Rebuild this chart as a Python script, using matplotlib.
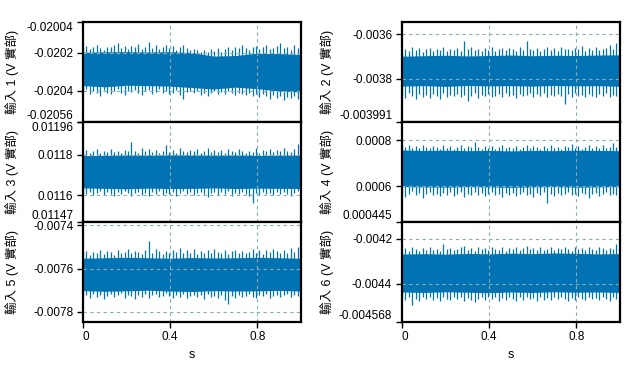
import numpy as np
import matplotlib
matplotlib.use("Agg")
import matplotlib.pyplot as plt

plt.rcParams["font.family"] = ["Liberation Sans", "Noto Sans CJK TC", "DejaVu Sans"]


# 1. Data (values in microvolts)

# dense core of each noise band, sampled at t = 0, 0.1, ..., 1
ch1_core_top = [-20198, -20196, -20195, -20197, -20195, -20200, -20218, -20215, -20203, -20205, -20210]
ch1_core_bot = [-20372, -20378, -20370, -20372, -20375, -20382, -20390, -20380, -20388, -20400, -20405]

ch1_top = [-20178, -20166, -20183, -20171, -20160, -20176, -20186, -20169,
           -20173, -20161, -20150, -20177, -20167, -20181, -20163, -20172,
           -20156, -20179, -20168, -20147, -20174, -20162, -20183, -20170,
           -20158, -20177, -20165, -20186, -20172, -20160, -20175, -20184,
           -20180, -20188, -20196, -20185, -20198, -20182, -20190, -20175,
           -20194, -20180, -20172, -20186, -20168, -20178, -20162, -20176,
           -20185, -20170, -20164, -20180, -20172, -20158, -20183, -20176,
           -20166, -20152, -20178, -20170, -20185, -20162, -20175, -20168]
ch1_bot = [-20405, -20392, -20418, -20398, -20410, -20425, -20396, -20408,
           -20415, -20400, -20390, -20412, -20422, -20398, -20406, -20395,
           -20410, -20420, -20402, -20395, -20415, -20405, -20392, -20412,
           -20400, -20418, -20408, -20396, -20420, -20440, -20405, -20398,
           -20412, -20402, -20420, -20410, -20425, -20408, -20398, -20415,
           -20405, -20418, -20400, -20412, -20422, -20408, -20415, -20420,
           -20410, -20428, -20418, -20432, -20415, -20425, -20440, -20422,
           -20435, -20428, -20445, -20430, -20438, -20425, -20442, -20432]

ch2_core_top = [-3698, -3696, -3694, -3697, -3695, -3693, -3696, -3694, -3695, -3693, -3692]
ch2_core_bot = [-3832, -3830, -3833, -3829, -3831, -3830, -3832, -3829, -3831, -3830, -3833]

ch2_top = [-3680, -3665, -3675, -3658, -3672, -3662, -3678, -3668,
           -3660, -3674, -3664, -3670, -3656, -3676, -3666, -3672,
           -3662, -3675, -3628, -3668, -3658, -3672, -3664, -3676,
           -3660, -3670, -3656, -3674, -3666, -3660, -3672, -3662,
           -3668, -3676, -3658, -3670, -3632, -3664, -3672, -3660,
           -3674, -3664, -3656, -3670, -3662, -3676, -3658, -3668,
           -3664, -3672, -3660, -3668, -3654, -3674, -3662, -3670,
           -3658, -3672, -3664, -3660, -3650, -3668, -3640, -3662]
ch2_bot = [-3870, -3885, -3862, -3878, -3890, -3866, -3880, -3872,
           -3885, -3868, -3876, -3888, -3864, -3882, -3870, -3878,
           -3866, -3880, -3872, -3898, -3876, -3864, -3884, -3870,
           -3878, -3866, -3882, -3874, -3868, -3880, -3864, -3876,
           -3870, -3884, -3866, -3878, -3872, -3862, -3880, -3868,
           -3876, -3864, -3882, -3870, -3878, -3866, -3874, -3910,
           -3868, -3880, -3864, -3876, -3870, -3882, -3866, -3874,
           -3880, -3868, -3876, -3864, -3882, -3870, -3878, -3884]

ch3_core_top = [11795, 11796, 11798, 11797, 11799, 11798, 11797, 11798, 11796, 11797, 11798]
ch3_core_bot = [11636, 11634, 11632, 11635, 11633, 11634, 11636, 11633, 11635, 11634, 11633]

ch3_top = [11812, 11822, 11808, 11818, 11826, 11810, 11820, 11815,
           11828, 11812, 11819, 11806, 11824, 11816, 11862, 11820,
           11810, 11832, 11818, 11826, 11812, 11822, 11808, 11818,
           11848, 11815, 11825, 11810, 11830, 11818, 11812, 11822,
           11816, 11828, 11810, 11820, 11834, 11815, 11824, 11812,
           11822, 11808, 11826, 11818, 11812, 11828, 11816, 11806,
           11820, 11814, 11830, 11810, 11822, 11818, 11826, 11812,
           11824, 11816, 11832, 11820, 11814, 11828, 11852, 11838]
ch3_bot = [11612, 11605, 11618, 11600, 11610, 11620, 11602, 11614,
           11608, 11598, 11615, 11604, 11620, 11610, 11596, 11612,
           11618, 11602, 11610, 11595, 11614, 11606, 11620, 11600,
           11612, 11604, 11616, 11598, 11610, 11620, 11606, 11614,
           11600, 11612, 11618, 11604, 11592, 11610, 11616, 11602,
           11614, 11606, 11620, 11598, 11612, 11604, 11616, 11608,
           11596, 11562, 11610, 11602, 11618, 11606, 11612, 11600,
           11614, 11604, 11618, 11608, 11596, 11612, 11620, 11605]

ch4_core_top = [758, 756, 757, 755, 756, 754, 756, 755, 757, 756, 755]
ch4_core_bot = [598, 597, 596, 598, 597, 595, 597, 598, 596, 597, 598]

ch4_top = [785, 770, 778, 765, 774, 768, 780, 772,
           766, 776, 770, 762, 778, 768, 774, 764,
           772, 780, 766, 775, 769, 792, 771, 764,
           776, 768, 774, 762, 770, 778, 766, 772,
           768, 776, 764, 772, 780, 766, 774, 770,
           762, 774, 768, 778, 766, 772, 764, 776,
           770, 786, 768, 775, 764, 772, 778, 766,
           774, 768, 780, 766, 772, 788, 770, 776]
ch4_bot = [570, 555, 565, 578, 560, 572, 550, 566,
           574, 560, 568, 556, 572, 562, 576, 558,
           566, 574, 552, 568, 560, 575, 562, 570,
           556, 568, 574, 560, 566, 552, 570, 562,
           572, 558, 566, 574, 560, 568, 555, 570,
           562, 574, 526, 566, 558, 572, 560, 568,
           574, 560, 568, 556, 572, 564, 550, 566,
           570, 558, 566, 574, 560, 568, 562, 570]

ch5_core_top = [-7552, -7550, -7548, -7550, -7552, -7549, -7551, -7550, -7548, -7550, -7552]
ch5_core_bot = [-7702, -7705, -7703, -7700, -7704, -7706, -7702, -7704, -7703, -7701, -7704]

ch5_top = [-7530, -7518, -7535, -7522, -7528, -7512, -7532, -7520,
           -7525, -7535, -7515, -7528, -7522, -7508, -7530, -7518,
           -7524, -7532, -7514, -7474, -7526, -7510, -7520, -7534,
           -7518, -7528, -7512, -7524, -7506, -7530, -7516, -7526,
           -7510, -7532, -7520, -7526, -7514, -7530, -7508, -7522,
           -7528, -7516, -7532, -7520, -7512, -7526, -7518, -7530,
           -7522, -7510, -7528, -7516, -7532, -7514, -7524, -7508,
           -7520, -7530, -7512, -7526, -7505, -7522, -7500, -7518]
ch5_bot = [-7728, -7720, -7735, -7716, -7730, -7722, -7740, -7725,
           -7718, -7732, -7724, -7715, -7736, -7722, -7728, -7742,
           -7720, -7730, -7716, -7734, -7724, -7719, -7732, -7726,
           -7715, -7728, -7738, -7722, -7730, -7716, -7734, -7725,
           -7720, -7732, -7724, -7740, -7718, -7730, -7726, -7735,
           -7722, -7745, -7762, -7728, -7736, -7720, -7732, -7725,
           -7718, -7730, -7738, -7722, -7728, -7716, -7734, -7726,
           -7720, -7732, -7724, -7716, -7730, -7722, -7728, -7735]

ch6_core_top = [-4268, -4266, -4268, -4265, -4267, -4264, -4266, -4263, -4265, -4267, -4266]
ch6_core_bot = [-4436, -4438, -4435, -4437, -4439, -4436, -4438, -4435, -4437, -4436, -4438]

ch6_top = [-4250, -4240, -4252, -4236, -4246, -4255, -4242, -4250,
           -4238, -4248, -4244, -4252, -4224, -4246, -4240, -4250,
           -4244, -4236, -4230, -4248, -4242, -4252, -4238, -4246,
           -4240, -4250, -4236, -4244, -4248, -4238, -4252, -4242,
           -4246, -4236, -4250, -4240, -4232, -4246, -4242, -4250,
           -4238, -4248, -4244, -4236, -4250, -4240, -4246, -4238,
           -4244, -4252, -4236, -4246, -4240, -4250, -4238, -4244,
           -4248, -4236, -4242, -4250, -4240, -4246, -4222, -4242]
ch6_bot = [-4462, -4470, -4458, -4493, -4466, -4474, -4460, -4468,
           -4456, -4470, -4462, -4476, -4458, -4466, -4472, -4460,
           -4468, -4456, -4474, -4462, -4470, -4482, -4466, -4458,
           -4472, -4460, -4468, -4456, -4474, -4462, -4470, -4458,
           -4466, -4474, -4460, -4470, -4456, -4468, -4462, -4474,
           -4458, -4470, -4464, -4472, -4460, -4468, -4456, -4466,
           -4474, -4462, -4470, -4458, -4466, -4472, -4460, -4468,
           -4462, -4470, -4456, -4466, -4474, -4460, -4468, -4464]

# axis ranges and tick labels (volts)
ch1_ylim = (-0.02056, -0.02004)
ch1_ticks = [-0.02056, -0.0204, -0.0202, -0.02004]
ch1_labels = ["-0.02056", "-0.0204", "-0.0202", "-0.02004"]

ch2_ylim = (-0.003991, -0.003545)
ch2_ticks = [-0.003991, -0.0038, -0.0036]
ch2_labels = ["-0.003991", "-0.0038", "-0.0036"]

ch3_ylim = (0.01147, 0.01196)
ch3_ticks = [0.01147, 0.0116, 0.0118, 0.01196]
ch3_labels = ["0.01147", "0.0116", "0.0118", "0.01196"]

ch4_ylim = (0.000445, 0.00088)
ch4_ticks = [0.000445, 0.0006, 0.0008]
ch4_labels = ["0.000445", "0.0006", "0.0008"]

ch5_ylim = (-0.007846, -0.007385)
ch5_ticks = [-0.0078, -0.0076, -0.0074]
ch5_labels = ["-0.0078", "-0.0076", "-0.0074"]

ch6_ylim = (-0.004568, -0.004126)
ch6_ticks = [-0.004568, -0.0044, -0.0042]
ch6_labels = ["-0.004568", "-0.0044", "-0.0042"]

x_ticks = [0, 0.4, 0.8]
x_labels = ["0", "0.4", "0.8"]

ylabel_fmt = "輸入 {} (V 實部)"


# 2. Figure

BLUE = "#0173b2"
GRID = "#8aaeb5"

fig = plt.figure(figsize=(6.31, 3.79), dpi=100)

col_left = [0.1315, 0.637]
col_w = 0.3455
row_bottom = [0.679, 0.415, 0.151]
row_h = 0.263

canais = [
    (1, 0, 0, ch1_core_top, ch1_core_bot, ch1_top, ch1_bot, ch1_ylim, ch1_ticks, ch1_labels),
    (3, 0, 1, ch3_core_top, ch3_core_bot, ch3_top, ch3_bot, ch3_ylim, ch3_ticks, ch3_labels),
    (5, 0, 2, ch5_core_top, ch5_core_bot, ch5_top, ch5_bot, ch5_ylim, ch5_ticks, ch5_labels),
    (2, 1, 0, ch2_core_top, ch2_core_bot, ch2_top, ch2_bot, ch2_ylim, ch2_ticks, ch2_labels),
    (4, 1, 1, ch4_core_top, ch4_core_bot, ch4_top, ch4_bot, ch4_ylim, ch4_ticks, ch4_labels),
    (6, 1, 2, ch6_core_top, ch6_core_bot, ch6_top, ch6_bot, ch6_ylim, ch6_ticks, ch6_labels),
]

for num, col, row, core_top, core_bot, top, bot, ylim, ticks, labels in canais:
    ax = fig.add_axes([col_left[col], row_bottom[row], col_w, row_h])

    t_core = np.linspace(0, 1, len(core_top))
    ax.fill_between(t_core, np.array(core_bot) * 1e-6, np.array(core_top) * 1e-6,
                    color=BLUE, lw=0, zorder=1)
    t_sp = np.linspace(0, 1, len(top))
    ax.vlines(t_sp, np.array(bot) * 1e-6, np.array(top) * 1e-6, color=BLUE, lw=0.9, zorder=1)

    ax.set_xlim(0, 1)
    ax.set_ylim(*ylim)

    ax.set_yticks(ticks)
    ax.set_yticklabels(labels)
    for tk, lab in zip(ticks, ax.get_yticklabels()):
        if tk == ylim[0]:
            lab.set_va("bottom")
        elif tk == ylim[1]:
            lab.set_va("top")

    ax.set_xticks(x_ticks)
    if row == 2:
        ax.set_xticklabels(x_labels)
        ax.get_xticklabels()[0].set_ha("left")
        ax.set_xlabel("s", fontsize=9, labelpad=4)
        ax.tick_params(axis="x", length=4, width=1, labelsize=8.5, pad=3)
    else:
        ax.tick_params(axis="x", length=0, labelbottom=False)

    ax.tick_params(axis="y", length=4, width=1, labelsize=8.5, pad=3)

    ax.grid(True, color=GRID, lw=0.8, linestyle=(0, (3, 3)))
    ax.set_axisbelow(False)

    for sp in ax.spines.values():
        sp.set_linewidth(1.6)
        sp.set_zorder(4)

    ax.set_ylabel(ylabel_fmt.format(num), fontsize=9)
    if col == 0:
        ax.yaxis.set_label_coords(-0.295, 0.5)
    else:
        ax.yaxis.set_label_coords(-0.31, 0.5)

plt.savefig("out.png", dpi=100)
plt.close()
